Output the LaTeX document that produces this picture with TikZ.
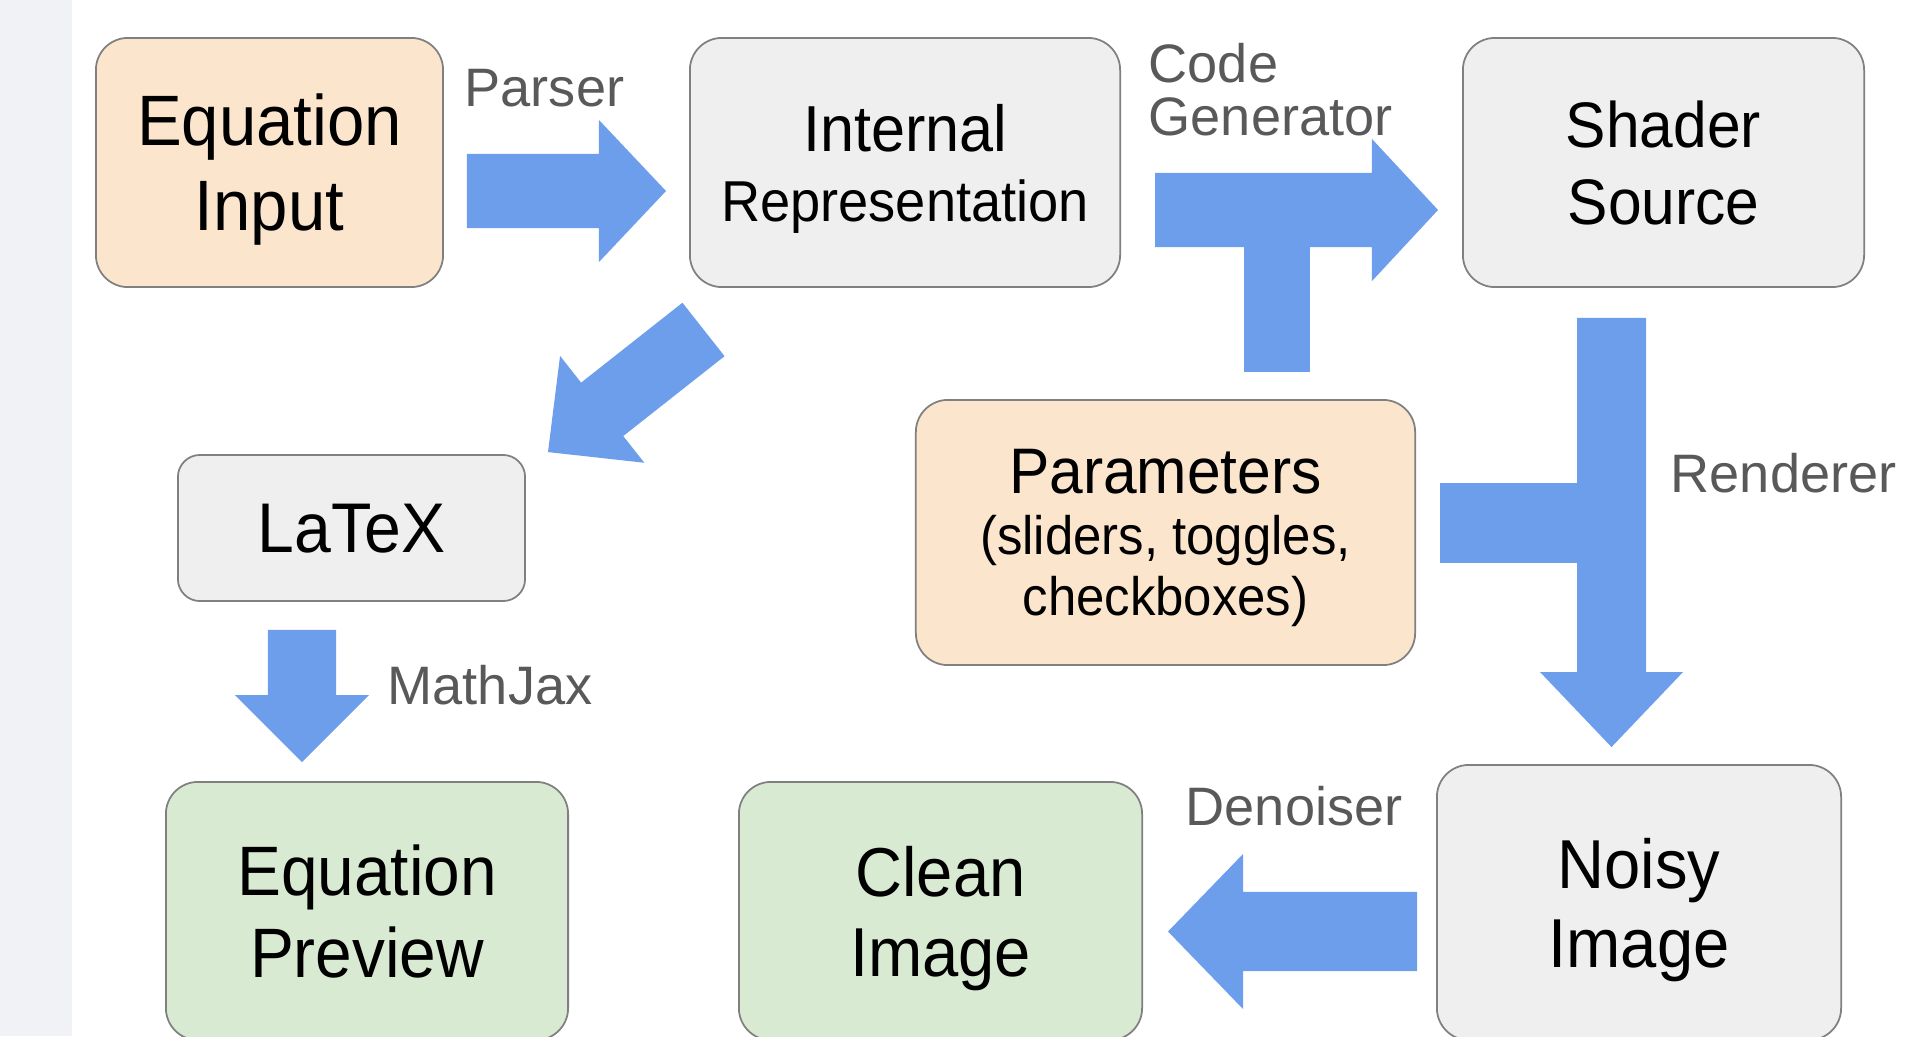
\documentclass[tikz,border=0pt]{standalone}
\usepackage{fontspec}
\setmainfont{Liberation Sans}[FakeStretch=0.94]
\newfontfamily\lblfont{Liberation Sans}
\usetikzlibrary{calc, positioning}

\definecolor{stripgrey}{RGB}{240,242,246}
\definecolor{boxorange}{RGB}{252,229,205}
\definecolor{boxgrey}{RGB}{239,239,239}
\definecolor{boxgreen}{RGB}{217,234,211}
\definecolor{flowblue}{RGB}{109,158,235}
\definecolor{lblgrey}{RGB}{89,89,89}

\newcommand{\fs}[2]{\fontsize{#1}{#2}\selectfont}
% fat arrow: from, tip, half shaft, half head, head length
\newcommand{\blockarrow}[5]{%
  \coordinate (ba-h) at ($(#2)!#5!(#1)$);
  \fill[flowblue] ($(#1)!#3!90:(#2)$) -- ($(ba-h)!#3!90:(#2)$) -- ($(ba-h)!#4!90:(#2)$) -- (#2)
    -- ($(ba-h)!#4!-90:(#2)$) -- ($(ba-h)!#3!-90:(#2)$) -- ($(#1)!#3!-90:(#2)$) -- cycle;
}

\begin{document}
\begin{tikzpicture}[x=0.01cm, y=-0.01cm,
  box/.style={draw=black!50, line width=0.5pt, rounded corners=0.32cm, inner sep=0pt, align=center, text depth=0pt},
  lbl/.style={text=lblgrey, inner sep=0pt, font=\lblfont\fs{15.4}{14.8}, align=left}
]
\useasboundingbox (0,0) rectangle (1909,1036);
\clip (0,0) rectangle (1909,1036);
\fill[stripgrey] (0,0) rectangle (72,1036);

\node[box, fill=boxorange, minimum width=3.47cm, minimum height=2.49cm, font=\fs{20.3}{24.2}] (eqin) at (269.5,162.5) {Equation\\Input};
\node[box, fill=boxgrey, minimum width=4.30cm, minimum height=2.49cm, font=\fs{16.4}{19.9}] (irep) at (905,162.5) {{\fs{18.5}{19.9}Internal}\\Representation};
\node[box, fill=boxgrey, minimum width=4.01cm, minimum height=2.49cm, font=\fs{18.3}{21.9}] (shader) at (1663.5,162.5) {Shader\\Source};
\node[box, fill=boxgrey, minimum width=3.47cm, minimum height=1.46cm, rounded corners=0.22cm, font=\fs{20}{22}] (latex) at (351.5,528) {LaTeX};
\node[box, fill=boxorange, minimum width=4.99cm, minimum height=2.65cm, font=\fs{15.4}{17.3}] (params) at (1165.5,532.5) {{\fs{18.3}{17.3}Parameters}\\(sliders, toggles,\\checkboxes)};
\node[box, fill=boxgreen, minimum width=4.02cm, minimum height=2.58cm, font=\fs{19.9}{23.3}] (eqprev) at (367,911) {Equation\\Preview};
\node[box, fill=boxgreen, minimum width=4.03cm, minimum height=2.58cm, font=\fs{19.7}{22.8}] (clean) at (940.5,911) {Clean\\Image};
\node[box, fill=boxgrey, minimum width=4.04cm, minimum height=2.75cm, font=\fs{19.7}{22.5}] (noisy) at (1639,902.5) {Noisy\\Image};

\node[lbl, anchor=base west] (parser) at (464,106) {Parser};
\node[lbl, anchor=base west] (codegen) at (1148,135) {Code\\Generator};
\node[lbl, anchor=base west] (mathjax) at (387,704) {MathJax};
\node[lbl, anchor=base west] (renderer) at (1670,492) {Renderer};
\node[lbl, anchor=base west] (denoiser) at (1185,825) {Denoiser};

\coordinate (parse-s) at ($(eqin.east)+(23,28.5)$);
\coordinate (parse-t) at ($(irep.west)+(-23,28.5)$);
\blockarrow{parse-s}{parse-t}{0.37cm}{0.71cm}{0.67cm}

\coordinate (tex-s) at ($(irep.south)+(-201.5,41.5)$);
\coordinate (tex-t) at ($(latex.north east)+(22,-2)$);
\blockarrow{tex-s}{tex-t}{0.34cm}{0.68cm}{0.69cm}

\coordinate (gen-s) at ($(irep.east)+(34,47.5)$);
\coordinate (gen-t) at ($(shader.west)+(-24,47.5)$);
\coordinate (gen-m) at ($(params.north)+(111.5,-27)$);
\fill[flowblue] ($(gen-m)+(-33,0)$) rectangle ($(gen-m |- gen-s)+(33,0)$);
\blockarrow{gen-s}{gen-t}{0.37cm}{0.71cm}{0.66cm}

\coordinate (ren-s) at ($(shader.south)+(-52,30)$);
\coordinate (ren-t) at ($(noisy.north)+(-27.5,-17)$);
\coordinate (ren-m) at ($(params.east)+(24,-9.5)$);
\fill[flowblue] ($(ren-m)+(0,-40)$) rectangle ($(ren-m -| ren-s)+(0,40)$);
\blockarrow{ren-s}{ren-t}{0.345cm}{0.715cm}{0.75cm}

\coordinate (den-s) at ($(noisy.west)+(-19,29)$);
\coordinate (den-t) at ($(clean.east |- den-s)+(25,0)$);
\blockarrow{den-s}{den-t}{0.395cm}{0.775cm}{0.75cm}

\coordinate (mj-s) at ($(latex.south)+(-49.5,28)$);
\coordinate (mj-t) at ($(mj-s |- eqprev.north)+(0,-19)$);
\blockarrow{mj-s}{mj-t}{0.34cm}{0.67cm}{0.67cm}

\end{tikzpicture}
\end{document}
